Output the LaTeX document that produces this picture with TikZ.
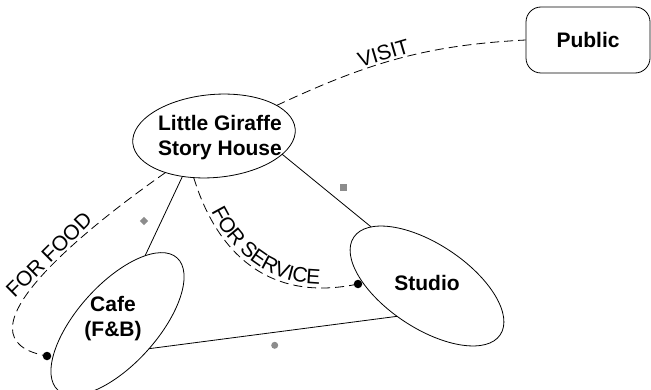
\documentclass[tikz,border=0pt]{standalone}
\usepackage{fontspec}
\setmainfont{Liberation Sans}
\usetikzlibrary{shapes.geometric,decorations.text}
\definecolor{markgray}{RGB}{140,140,140}
\newcommand{\nodefont}{\fontsize{21}{25}\selectfont\bfseries}
\newcommand{\labfont}{\fontsize{21}{25}\selectfont}
\begin{document}
\begin{tikzpicture}[x=1pt,y=1pt,
  bubble/.style={draw, ellipse, line width=0.8pt, inner sep=0pt, outer sep=0pt},
  nodetext/.style={font=\nodefont, align=center, inner sep=0pt},
  link/.style={line width=0.8pt},
  dashlink/.style={line width=0.8pt, dash pattern=on 9pt off 5pt},
  dotnode/.style={circle, fill=black, inner sep=0pt, minimum size=8.5pt},
  lab/.style={font=\labfont, inner sep=1.5pt, sloped, above},
  graymark/.style={fill=markgray, inner sep=0pt}
]
\useasboundingbox (0,0) rectangle (651,389);
\clip (0,0) rectangle (651,389);

% shapes
\node[bubble, rotate=5, minimum width=163pt, minimum height=83pt] (giraffe) at (214,253) {};
\node[bubble, rotate=48, minimum width=178pt, minimum height=80pt] (cafe) at (117.5,65) {};
\node[bubble, rotate=-33.6, minimum width=176pt, minimum height=84pt] (studio) at (427,103) {};
\node[draw, rectangle, rounded corners=15pt, line width=0.8pt, minimum width=124pt, minimum height=66pt, font=\nodefont] (public) at (588,349) {Public};

% texts
\node[nodetext] (giraffeT) at (220,251.6) {Little Giraffe\\Story House};
\node[nodetext] (cafeT) at (113,70.6) {Cafe\\(F\&B)};
\node[nodetext] (studioT) at (427,105.6) {Studio};

% dots
\node[dotnode] (dotA) at (47,33) {};
\node[dotnode] (dotB) at (358,105) {};

% solid connectors
\draw[link] (giraffe.227) -- (cafe.20);
\draw[link] (giraffe.340) -- (studio.167.5);
\draw[link] (cafe.274) -- (studio.259);

% dashed connectors
\draw[dashlink] (giraffe.21) to[out=25,in=183] node[lab, pos=0.45] (visitL) {VISIT} (public.west);
\draw[dashlink] (giraffe.212) to[out=215,in=170,out distance=100pt,in distance=100pt] node[lab, pos=0.42] (foodL) {FOR FOOD} (dotA.center);
\draw[dashlink, postaction={decorate, decoration={text along path, text={|\labfont|FOR SERVICE}, raise=4pt, text align={left, left indent=38pt}}}] (giraffe.239.5) to[out=287,in=192,out distance=80pt,in distance=90pt] (dotB.center);

% gray markers
\node[graymark, diamond, minimum size=8.5pt] (mkA) at (144,168) {};
\node[graymark, rectangle, minimum size=7pt] (mkB) at (343,202) {};
\node[graymark, circle, minimum size=7pt] (mkC) at (274.7,43.7) {};
\end{tikzpicture}
\end{document}
